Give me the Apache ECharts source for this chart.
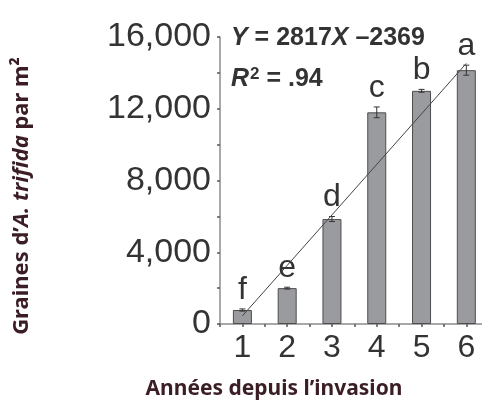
<!DOCTYPE html>
<html><head><meta charset="utf-8">
<script src="https://cdn.jsdelivr.net/npm/echarts@6/dist/echarts.min.js"></script>
<style>html,body{margin:0;padding:0;background:#fff}#c{width:482px;height:405px}</style>
</head><body><div id="c"></div>
<script>
const years = [1, 2, 3, 4, 5, 6];
const seeds = [780, 2000, 5850, 11800, 13000, 14150];
const errors = [60, 50, 140, 300, 80, 280];
const letters = ['f', 'e', 'd', 'c', 'b', 'a'];
const regX = [1, 6];
const regY = [450, 14530];
const yTicks = [0, 4000, 8000, 12000, 16000];
const eqLine1 = ['Y', ' = 2817', 'X', ' \u20132369'];
const eqLine2 = ['R', '2', ' = .94'];
const xTitle = 'Années depuis l\u2019invasion';
const yTitleParts = ['Graines d\u2019', 'A. trifida', ' par m\u00b2'];

const chart = echarts.init(document.getElementById('c'), null, {renderer: 'canvas'});
const axisGray = '#8c8c8c';
const labelColor = '#333333';
const titleColor = '#3b1e25';
const lf = '"Liberation Sans", Arial, sans-serif';
const tf = '"Noto Sans", sans-serif';

chart.setOption({
  animation: false,
  grid: {left: 220, right: 0, top: 37, bottom: 81, containLabel: false},
  xAxis: {
    type: 'value', min: 0.5, max: 6.35, interval: 0.5,
    axisLine: {show: true, onZero: false, lineStyle: {color: axisGray, width: 1.5}},
    axisTick: {show: true, length: 3, lineStyle: {color: '#555', width: 1.5}},
    splitLine: {show: false},
    axisLabel: {
      color: labelColor, fontFamily: lf, fontSize: 32, margin: 8, showMaxLabel: false,
      formatter: v => years.indexOf(v) >= 0 ? String(v) : ''
    }
  },
  yAxis: {
    type: 'value', min: 0, max: 16000, interval: 2000,
    axisLine: {show: true, lineStyle: {color: axisGray, width: 1.5}},
    axisTick: {show: true, length: 3, lineStyle: {color: '#555', width: 1.5}},
    splitLine: {show: false},
    axisLabel: {
      color: labelColor, fontFamily: lf, fontSize: 34, margin: 9,
      formatter: v => yTicks.indexOf(v) >= 0 ? v.toLocaleString('en-US') : ''
    }
  },
  series: [
    {
      type: 'bar', barWidth: 19,
      data: years.map((x, i) => [x, seeds[i]]),
      itemStyle: {color: '#9a9b9e', borderColor: '#4d4d4d', borderWidth: 1}
    },
    {
      type: 'custom',
      data: years.map((x, i) => [x, seeds[i], errors[i], i]),
      renderItem: (params, api) => {
        const x = api.value(0), y = api.value(1), e = api.value(2), i = api.value(3);
        const top = api.coord([x, y + e]);
        const bot = api.coord([x, y - e]);
        const cw = 3;
        return {
          type: 'group',
          children: [
            {type: 'line', shape: {x1: top[0], y1: top[1], x2: bot[0], y2: bot[1]}, style: {stroke: '#333', lineWidth: 1}},
            {type: 'line', shape: {x1: top[0] - cw, y1: top[1], x2: top[0] + cw, y2: top[1]}, style: {stroke: '#333', lineWidth: 1}},
            {type: 'line', shape: {x1: bot[0] - cw, y1: bot[1], x2: bot[0] + cw, y2: bot[1]}, style: {stroke: '#333', lineWidth: 1}},
            {type: 'text', x: top[0], y: top[1] - 3,
             style: {text: letters[i], font: '32px ' + lf, fill: '#333', align: 'center', verticalAlign: 'bottom'}}
          ]
        };
      },
      z: 5
    },
    {
      type: 'line', data: regX.map((x, i) => [x, regY[i]]),
      symbol: 'none', lineStyle: {color: '#444', width: 1}, z: 6
    }
  ],
  graphic: [
    {
      type: 'text', left: 231, top: 26,
      style: {
        text: '{i|' + eqLine1[0] + '}{b|' + eqLine1[1] + '}{i|' + eqLine1[2] + '}{b|' + eqLine1[3] + '}',
        rich: {
          i: {font: 'italic bold 25px ' + lf, fill: '#333'},
          b: {font: 'bold 25px ' + lf, fill: '#333'}
        }
      }
    },
    {
      type: 'text', left: 231, top: 66,
      style: {
        text: '{i|' + eqLine2[0] + '}{s|' + eqLine2[1] + '}{b|' + eqLine2[2] + '}',
        rich: {
          i: {font: 'italic bold 25px ' + lf, fill: '#333'},
          s: {font: 'bold 17px ' + lf, fill: '#333', verticalAlign: 'top', padding: [0, 0, 10, 1]},
          b: {font: 'bold 25px ' + lf, fill: '#333'}
        }
      }
    },
    {
      type: 'text', x: 274, y: 389,
      style: {text: xTitle, font: 'bold 21px ' + tf, fill: titleColor, align: 'center', verticalAlign: 'middle'}
    },
    {
      type: 'text', x: 22, y: 196, rotation: Math.PI / 2,
      style: {
        text: '{b|' + yTitleParts[0] + '}{i|' + yTitleParts[1] + '}{b|' + yTitleParts[2] + '}',
        align: 'center', verticalAlign: 'middle',
        rich: {
          b: {font: 'bold 22px ' + tf, fill: titleColor},
          i: {font: 'italic bold 22px ' + tf, fill: titleColor}
        }
      }
    }
  ]
});
</script></body></html>
